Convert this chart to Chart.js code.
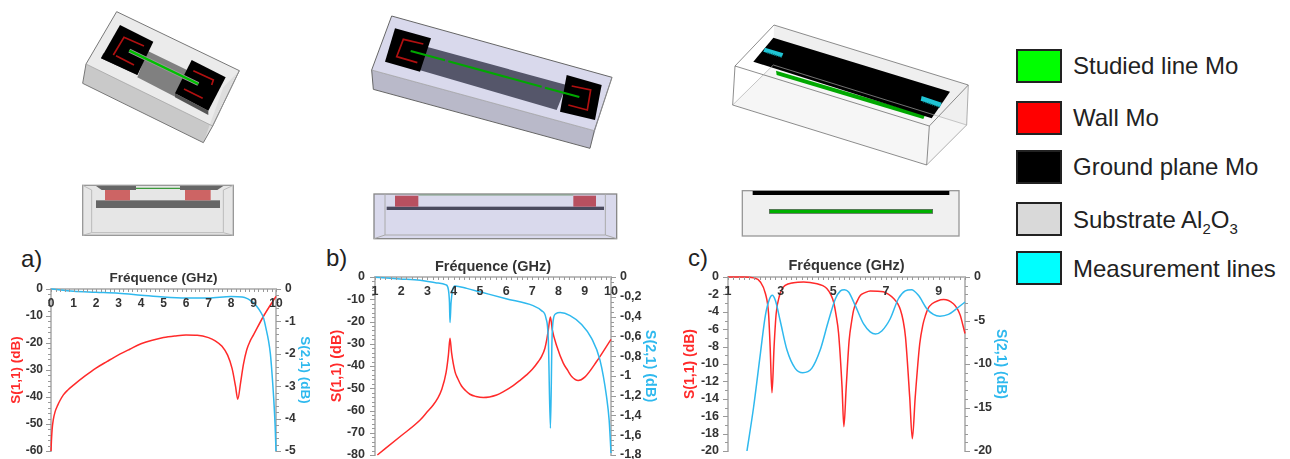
<!DOCTYPE html>
<html>
<head>
<meta charset="utf-8">
<title>S parameters</title>
<script src="https://cdn.jsdelivr.net/npm/chart.js@4"></script>
<style>
  html, body { margin: 0; padding: 0; background: #fff; }
  body { width: 1290px; height: 459px; position: relative; overflow: hidden; font-family: "Liberation Sans", Arial, sans-serif; }
  canvas { position: absolute; filter: blur(0.35px); }
  svg { position: absolute; filter: blur(0.5px); }
  .panel { position: absolute; font-size: 24px; color: #222; line-height: 26px; }
  .swatch { position: absolute; left: 1016px; width: 42px; height: 30px; border: 2px solid #222; }
  .item { position: absolute; left: 1073px; font-size: 24px; color: #222; line-height: 26px; white-space: nowrap; }
  .item sub { font-size: 15px; line-height: 0; }
</style>
</head>
<body>

<!-- 3D views, viewBox = crop coordinates x3 -->
<svg style="left:60px;top:0" width="300" height="245" viewBox="0 0 900 735">
  <polygon points="170,35 538,212 458,378 78,192" fill="#ebebeb"/>
  <polygon points="78,192 458,378 430,428 68,250" fill="#c9c9c9"/>
  <polygon points="538,212 458,378 430,428 490,262" fill="#dedede"/>
  <polygon points="262,152 392,215 345,290 232,232" fill="#808080"/>
  <polygon points="123,175 232,225 238,212 130,160" fill="#555"/>
  <polygon points="180,75 280,125 232,225 123,175" fill="#000"/>
  <polygon points="345,280 445,332 445,345 345,292" fill="#555"/>
  <polygon points="395,180 497,232 445,332 345,280" fill="#000"/>
  <polyline points="252,138 192,112 160,165" fill="none" stroke="#b01010" stroke-width="5"/>
  <line x1="168" y1="167" x2="222" y2="195" stroke="#b01010" stroke-width="5"/>
  <polyline points="400,212 460,240 455,255" fill="none" stroke="#b01010" stroke-width="5"/>
  <line x1="372" y1="267" x2="428" y2="295" stroke="#b01010" stroke-width="5"/>
  <line x1="208" y1="152" x2="415" y2="252" stroke="#999" stroke-width="12"/>
  <line x1="208" y1="152" x2="415" y2="252" stroke="#00c000" stroke-width="7"/>
  <polygon points="170,35 538,212 458,378 430,428 68,250 78,192" fill="none" stroke="#777" stroke-width="3"/>
  <polyline points="78,192 458,378 538,212" fill="none" stroke="#999" stroke-width="2"/>

  <rect x="68" y="556" width="452" height="150" fill="#e6e6e6" stroke="#999" stroke-width="4"/>
  <polyline points="68,556 95,570 95,698 68,706" fill="none" stroke="#bbb" stroke-width="3"/>
  <polyline points="520,556 490,570 490,698 520,706" fill="none" stroke="#bbb" stroke-width="3"/>
  <line x1="95" y1="698" x2="490" y2="698" stroke="#bbb" stroke-width="3"/>
  <rect x="108" y="601" width="372" height="23" fill="#666"/>
  <rect x="135" y="566" width="75" height="35" fill="#cd6464"/>
  <rect x="375" y="566" width="77" height="35" fill="#cd6464"/>
  <polygon points="108,558 228,558 228,570 125,570" fill="#666"/>
  <polygon points="360,558 490,558 472,570 360,570" fill="#666"/>
  <line x1="228" y1="565" x2="360" y2="565" stroke="#3c9a3c" stroke-width="4"/>
</svg>

<svg style="left:350px;top:0" width="300" height="245" viewBox="0 0 900 735">
  <polygon points="125,48 786,232 733,392 65,210" fill="#d9d9ec"/>
  <polygon points="65,210 733,392 720,445 70,268" fill="#b9b9c9"/>
  <polygon points="786,232 733,392 720,445 770,280" fill="#d0d0e0"/>
  <polygon points="230,140 650,255 620,330 190,205" fill="#55566a"/>
  <polygon points="135,85 243,115 210,215 105,185" fill="#000"/>
  <polygon points="650,225 755,255 735,360 630,335" fill="#000"/>
  <polyline points="220,132 160,118 140,170 202,188" fill="none" stroke="#b01010" stroke-width="5"/>
  <polyline points="665,258 722,270 712,330 655,315" fill="none" stroke="#b01010" stroke-width="5"/>
  <line x1="182" y1="153" x2="285" y2="181" stroke="#00a800" stroke-width="6"/>
  <line x1="295" y1="184" x2="575" y2="260" stroke="#00a800" stroke-width="6"/>
  <line x1="585" y1="263" x2="688" y2="291" stroke="#00a800" stroke-width="6"/>
  <polygon points="125,48 786,232 733,392 720,445 70,268 65,210" fill="none" stroke="#666" stroke-width="3"/>
  <polyline points="65,210 733,392 786,232" fill="none" stroke="#999" stroke-width="2"/>

  <rect x="72" y="582" width="728" height="134" fill="#d9d9ec" stroke="#888" stroke-width="4"/>
  <polyline points="105,582 105,705 72,716" fill="none" stroke="#aaa" stroke-width="3"/>
  <polyline points="766,582 766,705 800,716" fill="none" stroke="#aaa" stroke-width="3"/>
  <line x1="105" y1="705" x2="766" y2="705" stroke="#aaa" stroke-width="3"/>
  <rect x="110" y="620" width="652" height="10" fill="#4a4a5e"/>
  <rect x="135" y="587" width="70" height="33" fill="#b85060"/>
  <rect x="670" y="587" width="68" height="33" fill="#b85060"/>
  <line x1="205" y1="585" x2="670" y2="585" stroke="#7fa080" stroke-width="3"/>
</svg>

<svg style="left:710px;top:0" width="280" height="245" viewBox="0 0 840 735">
  <polygon points="192,75 775,255 770,375 190,195" fill="#efefef"/>
  <polygon points="190,195 770,375 650,495 68,315" fill="#f6f6f6"/>
  <polygon points="198,212 645,345 640,357 200,225" fill="#00a800"/>
  <polygon points="190,113 720,275 665,355 130,185" fill="#000"/>
  <polygon points="165,143 220,160 215,172 160,155" fill="#20c4d4"/>
  <polygon points="635,288 695,308 690,322 632,302" fill="#20c4d4"/>
  <line x1="172" y1="158" x2="216" y2="172" stroke="#0a7a80" stroke-width="5" stroke-dasharray="3 4"/>
  <line x1="640" y1="305" x2="690" y2="322" stroke="#0a7a80" stroke-width="5" stroke-dasharray="3 4"/>
  <polyline points="75,198 192,75 775,255 658,378 75,198 68,315 650,495 658,378" fill="none" stroke="#555" stroke-width="2"/>
  <polyline points="650,495 770,375 775,255" fill="none" stroke="#888" stroke-width="2"/>
  <polyline points="68,315 190,195 770,375" fill="none" stroke="#aaa" stroke-width="2"/>

  <rect x="97" y="572" width="650" height="136" fill="#f0f0f0" stroke="#999" stroke-width="4"/>
  <rect x="128" y="573" width="590" height="12" fill="#000"/>
  <rect x="178" y="628" width="490" height="12" fill="#00b000" stroke="#555" stroke-width="2"/>
</svg>

<!-- material legend -->
<div class="swatch" style="top:49px;background:#00ff00"></div>
<div class="item" style="top:53px">Studied line Mo</div>
<div class="swatch" style="top:101px;background:#ff0000"></div>
<div class="item" style="top:105px">Wall Mo</div>
<div class="swatch" style="top:150px;background:#000"></div>
<div class="item" style="top:154px">Ground plane Mo</div>
<div class="swatch" style="top:202px;background:#d9d9d9"></div>
<div class="item" style="top:207px">Substrate Al<sub>2</sub>O<sub>3</sub></div>
<div class="swatch" style="top:251px;background:#00ffff"></div>
<div class="item" style="top:256px">Measurement lines</div>

<div class="panel" style="left:21px;top:246px">a)</div>
<div class="panel" style="left:326px;top:245px">b)</div>
<div class="panel" style="left:688px;top:245px">c)</div>

<canvas id="chartA"></canvas>
<canvas id="chartB"></canvas>
<canvas id="chartC"></canvas>

<script>
// panel a
const aS11Freq = [0, 0.02, 0.05, 0.1, 0.18, 0.3, 0.4, 0.55, 0.75, 1, 1.5, 2, 2.5, 3, 3.5, 4, 4.5, 5, 5.5, 6, 6.5, 7, 7.3, 7.6, 7.85, 8.05, 8.2, 8.3, 8.43, 8.55, 8.7, 8.85, 9, 9.45, 10];
const aS11 = [-60, -56, -52, -48.5, -45.5, -43, -41.3, -39.2, -37.4, -35.6, -32.3, -29.3, -26.8, -24.4, -22.3, -20.3, -19, -18, -17.4, -17, -17.1, -18, -19.2, -21.2, -24.5, -29.5, -36, -40.8, -34.5, -28, -22.5, -19.3, -17, -10, -2.7];
const aS21Freq = [0, 1, 2, 3, 4, 5, 6, 7, 8, 8.5, 8.7, 8.85, 9, 9.15, 9.3, 9.45, 9.55, 9.66, 9.75, 9.8, 9.9, 9.96, 10];
const aS21 = [0, -0.07, -0.1, -0.13, -0.19, -0.25, -0.28, -0.28, -0.23, -0.25, -0.29, -0.35, -0.42, -0.54, -0.69, -0.9, -1.2, -1.57, -2, -2.4, -3.4, -4.2, -5];

// panel b
const bS11Freq = [1.09, 1.95, 2.72, 3, 3.22, 3.4, 3.54, 3.71, 3.8, 3.86, 3.92, 4.05, 4.15, 4.3, 4.45, 4.62, 4.85, 5.13, 5.64, 5.9, 6.27, 6.5, 6.78, 7, 7.23, 7.35, 7.48, 7.56, 7.61, 7.69, 7.76, 7.93, 8.18, 8.35, 8.5, 8.75, 9, 9.45, 10];
const bS11 = [-80, -71.8, -64.3, -60.5, -57.5, -54.3, -50.7, -43, -35, -27.5, -34, -42.5, -45.5, -49, -51, -52.7, -53.7, -54.2, -53, -51.5, -48.8, -46.7, -44, -41.5, -38, -35.8, -32, -27.5, -23.7, -18, -23.7, -31, -38.7, -42, -44.7, -46.5, -45, -38, -28];
const bS21Freq = [1, 1.95, 2.72, 3.35, 3.71, 3.8, 3.84, 3.86, 3.9, 3.96, 4.05, 4.5, 5, 6, 7.03, 7.35, 7.52, 7.61, 7.69, 7.75, 7.8, 7.9, 8.06, 8.44, 8.88, 9.26, 9.58, 9.83, 9.93, 10];
const bS21 = [-0.003, -0.02, -0.034, -0.06, -0.08, -0.13, -0.26, -0.46, -0.26, -0.13, -0.09, -0.115, -0.15, -0.22, -0.29, -0.34, -0.415, -0.635, -1.53, -0.635, -0.43, -0.37, -0.36, -0.39, -0.48, -0.62, -0.84, -1.21, -1.45, -1.78];

// panel c
const cS11Freq = [1, 1.6, 1.97, 2.23, 2.42, 2.54, 2.6, 2.67, 2.75, 2.83, 2.96, 3.05, 3.17, 3.49, 3.87, 4.38, 4.6, 4.76, 4.9, 5.01, 5.1, 5.2, 5.33, 5.4, 5.49, 5.6, 5.7, 5.77, 5.9, 6.03, 6.2, 6.4, 6.9, 7.1, 7.3, 7.45, 7.55, 7.65, 7.74, 7.9, 8, 8.11, 8.28, 8.4, 8.5, 8.6, 8.75, 8.95, 9.19, 9.56, 9.7, 9.82, 9.9, 10];
const cS11 = [0, 0, -0.1, -0.57, -1.9, -4.2, -8, -13.3, -8, -4.2, -2.1, -1.4, -0.96, -0.65, -0.57, -0.77, -1, -1.34, -2, -2.87, -4.3, -6.5, -12.6, -17.2, -12.6, -7.3, -5, -3.8, -2.8, -2.1, -1.8, -1.6, -1.7, -2, -2.5, -3.1, -3.8, -5, -6.9, -13.8, -18.6, -13.8, -7.7, -5.5, -4.4, -3.6, -3.07, -2.75, -2.6, -3.07, -3.6, -4.4, -5.3, -6.5];
const cS21Freq = [1.72, 1.97, 2.23, 2.42, 2.58, 2.68, 2.8, 2.98, 3.24, 3.55, 3.84, 4.18, 4.5, 4.8, 5.08, 5.27, 5.42, 5.58, 5.83, 6.15, 6.4, 6.6, 6.84, 7.16, 7.47, 7.73, 7.97, 8.23, 8.55, 8.8, 9.05, 9.37, 9.68, 10];
const cS21 = [-20, -15, -8.8, -4.4, -2.5, -2.1, -2.7, -5, -8.4, -10.5, -11, -10.5, -8.4, -5.2, -2.5, -1.6, -1.46, -1.72, -3.26, -5.4, -6.3, -6.55, -6.2, -4.8, -2.5, -1.6, -1.46, -2.1, -3.64, -4.3, -4.5, -4.3, -3.64, -2.87];

const RED = '#ff2a2a';
const BLUE = '#2fb9ee';
const AXIS = '#bdbdbd';
const TEXT = '#333';
const FONT = '"Liberation Sans", Arial, sans-serif';

function near(a, b) {
    return Math.abs(a - b) < 1e-6;
}

// small gray tick marks, the long ones sit on labelled values
const tickMarks = {
    id: 'tickMarks',
    afterDatasetsDraw(chart) {
        const ctx = chart.ctx;
        ctx.save();
        ctx.strokeStyle = '#999';
        ctx.lineWidth = 1;
        ctx.beginPath();
        chart.scales.x.ticks.forEach((t) => {
            const px = Math.round(chart.scales.x.getPixelForValue(t.value)) + 0.5;
            ctx.moveTo(px, chart.chartArea.top);
            ctx.lineTo(px, chart.chartArea.top + 3);
        });
        chart.scales.y.ticks.forEach((t) => {
            const py = Math.round(chart.scales.y.getPixelForValue(t.value)) + 0.5;
            ctx.moveTo(chart.chartArea.left, py);
            ctx.lineTo(chart.chartArea.left - (t.label ? 5 : 3), py);
        });
        chart.scales.y2.ticks.forEach((t) => {
            const py = Math.round(chart.scales.y2.getPixelForValue(t.value)) + 0.5;
            ctx.moveTo(chart.chartArea.right, py);
            ctx.lineTo(chart.chartArea.right + (t.label ? 5 : 3), py);
        });
        ctx.stroke();
        ctx.restore();
    }
};

function points(xs, ys) {
    return xs.map((x, i) => ({ x: x, y: ys[i] }));
}

// the plot box is fixed, so labels hanging past it must not shrink the chart area
function clearOverhang(scale) {
    scale.paddingTop = 0;
    scale.paddingBottom = 0;
    scale.paddingLeft = 0;
    scale.paddingRight = 0;
}

function makeChart(id, box, plot, xAxis, left, right, s11, s21) {
    const canvas = document.getElementById(id);
    canvas.width = box.width;
    canvas.height = box.height;
    canvas.style.left = box.left + 'px';
    canvas.style.top = box.top + 'px';

    const tickFont = { family: FONT, size: xAxis.tickSize, weight: 'bold' };

    return new Chart(canvas, {
        type: 'line',
        plugins: [tickMarks],
        data: {
            datasets: [
                { data: s21, yAxisID: 'y2', borderColor: BLUE },
                { data: s11, yAxisID: 'y', borderColor: RED }
            ]
        },
        options: {
            responsive: false,
            animation: false,
            parsing: false,
            normalized: true,
            layout: { padding: { top: 0, left: 0, right: 0, bottom: box.top + box.height - plot.bottom } },
            plugins: { legend: { display: false }, tooltip: { enabled: false } },
            elements: {
                point: { radius: 0 },
                line: { borderWidth: 1.5, cubicInterpolationMode: 'monotone' }
            },
            datasets: { line: { clip: 3 } },
            scales: {
                x: {
                    type: 'linear',
                    position: 'top',
                    min: xAxis.min,
                    max: xAxis.max,
                    afterFit(scale) {
                        scale.height = plot.top - box.top;
                        clearOverhang(scale);
                    },
                    border: { color: AXIS, width: 2 },
                    grid: { drawOnChartArea: false, drawTicks: false },
                    title: {
                        display: true,
                        text: 'Fréquence (GHz)',
                        color: TEXT,
                        font: { family: FONT, size: xAxis.titleSize, weight: 'bold' },
                        padding: { top: xAxis.titleTop, bottom: 0 }
                    },
                    ticks: {
                        stepSize: 0.2,
                        autoSkip: false,
                        maxRotation: 0,
                        // mirror keeps the labels from being clipped to the axis band
                        mirror: true,
                        padding: 7,
                        z: 1,
                        color: TEXT,
                        font: tickFont,
                        callback(v) {
                            if (!near(v, Math.round(v))) return '';
                            const n = Math.round(v);
                            return (n - xAxis.min) % xAxis.labelEvery === 0 ? String(n) : '';
                        }
                    }
                },
                y: {
                    type: 'linear',
                    position: 'left',
                    min: left.min,
                    max: 0,
                    afterFit(scale) {
                        scale.width = plot.left - box.left;
                        clearOverhang(scale);
                    },
                    border: { color: AXIS, width: 2 },
                    grid: { drawOnChartArea: false, drawTicks: false },
                    title: {
                        display: true,
                        text: 'S(1,1) (dB)',
                        color: RED,
                        font: { family: FONT, size: left.titleSize, weight: 'bold' },
                        padding: { top: left.titleOffset, bottom: 0 }
                    },
                    ticks: {
                        stepSize: left.minor,
                        autoSkip: false,
                        padding: left.tickPad,
                        color: TEXT,
                        font: tickFont,
                        callback(v) {
                            const k = v / left.major;
                            return near(k, Math.round(k)) ? String(Math.round(k) * left.major) : '';
                        }
                    }
                },
                y2: {
                    type: 'linear',
                    position: 'right',
                    min: right.min,
                    max: 0,
                    afterFit(scale) {
                        scale.width = box.left + box.width - plot.right;
                        clearOverhang(scale);
                    },
                    border: { color: AXIS, width: 2 },
                    grid: { drawOnChartArea: false, drawTicks: false },
                    title: {
                        display: true,
                        text: 'S(2,1) (dB)',
                        color: BLUE,
                        font: { family: FONT, size: right.titleSize, weight: 'bold' },
                        padding: { top: right.titleOffset, bottom: 0 }
                    },
                    ticks: {
                        stepSize: right.minor,
                        autoSkip: false,
                        padding: 9,
                        color: TEXT,
                        font: tickFont,
                        callback(v) {
                            const k = v / right.major;
                            if (!near(k, Math.round(k))) return '';
                            const n = Math.round(k) * right.major;
                            return String(Math.round(n * 10) / 10).replace('.', ',');
                        }
                    }
                }
            }
        }
    });
}

makeChart('chartA',
    { left: 0, top: 262, width: 325, height: 197 },
    { left: 51, right: 276, top: 289, bottom: 451 },
    { min: 0, max: 10, labelEvery: 1, titleTop: 8, titleSize: 13.5, tickSize: 12 },
    { min: -60, major: 10, minor: 2, titleSize: 13.5, titleOffset: 8, tickPad: 8 },
    { min: -5, major: 1, minor: 0.2, titleSize: 13.5, titleOffset: 12 },
    points(aS11Freq, aS11), points(aS21Freq, aS21));

makeChart('chartB',
    { left: 325, top: 255, width: 345, height: 204 },
    { left: 375, right: 611, top: 277, bottom: 455 },
    { min: 1, max: 10, labelEvery: 1, titleTop: 3, titleSize: 14.5, tickSize: 12.5 },
    { min: -80, major: 10, minor: 2, titleSize: 14.5, titleOffset: 3, tickPad: 10 },
    { min: -1.8, major: 0.2, minor: 0.05, titleSize: 14.5, titleOffset: 11 },
    points(bS11Freq, bS11), points(bS21Freq, bS21));

makeChart('chartC',
    { left: 675, top: 255, width: 345, height: 204 },
    { left: 728, right: 965, top: 277, bottom: 451 },
    { min: 1, max: 10, labelEvery: 2, titleTop: 2, titleSize: 14.5, tickSize: 12.5 },
    { min: -20, major: 2, minor: 1, titleSize: 14, titleOffset: 7, tickPad: 9 },
    { min: -20, major: 5, minor: 1, titleSize: 14, titleOffset: 11 },
    points(cS11Freq, cS11), points(cS21Freq, cS21));
</script>
</body>
</html>
